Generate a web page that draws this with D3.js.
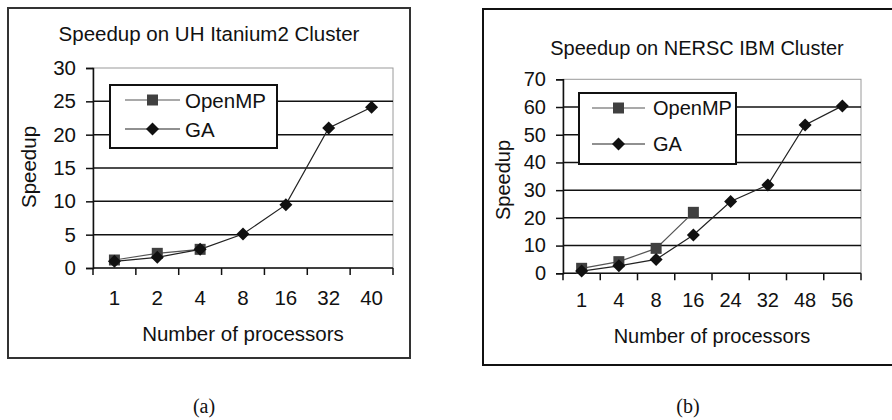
<!DOCTYPE html>
<html>
<head>
<meta charset="utf-8">
<script src="https://cdn.jsdelivr.net/npm/d3@7"></script>
<style>
  body { margin: 0; background: #fff; }
  svg { display: block; }
  text { font-family: "Liberation Sans", Arial, sans-serif; fill: #111; }
</style>
</head>
<body>
<svg id="fig" width="892" height="420"></svg>
<script>
// ---- data ----
const procsA = ["1", "2", "4", "8", "16", "32", "40"];
const openmpA = [1.2, 2.2, 2.8];
const gaA = [1.0, 1.6, 2.8, 5.1, 9.5, 21.0, 24.1];
const yTicksA = [0, 5, 10, 15, 20, 25, 30];

const procsB = ["1", "4", "8", "16", "24", "32", "48", "56"];
const openmpB = [1.8, 4.2, 9.0, 22.0];
const gaB = [0.8, 2.7, 5.0, 13.8, 25.9, 31.9, 53.5, 60.4];
const yTicksB = [0, 10, 20, 30, 40, 50, 60, 70];

const seriesNames = ["OpenMP", "GA"];

const svg = d3.select("#fig");

// marker shapes
function squarePath(s) {
  const h = s / 2;
  return `M${-h},${-h}H${h}V${h}H${-h}Z`;
}
function diamondPath(s) {
  const h = s / 2;
  return `M0,${-h}L${h},0L0,${h}L${-h},0Z`;
}

function drawPanel(cfg) {
  const g = svg.append("g");

  // outer chart frame
  g.append("rect")
    .attr("x", cfg.frame.x).attr("y", cfg.frame.y)
    .attr("width", cfg.frame.w).attr("height", cfg.frame.h)
    .attr("fill", "#fff")
    .attr("stroke", cfg.frameColor)
    .attr("stroke-width", 2);

  g.append("text")
    .attr("x", cfg.title.x).attr("y", cfg.title.y)
    .attr("text-anchor", "middle")
    .attr("dominant-baseline", "central")
    .style("font-size", cfg.fs + "px")
    .text(cfg.titleText);

  const x = d3.scaleBand()
    .domain(cfg.procs)
    .range([cfg.plot.x, cfg.plot.x + cfg.plot.w])
    .padding(0);

  const y = d3.scaleLinear()
    .domain([0, cfg.yTicks[cfg.yTicks.length - 1]])
    .range([cfg.plot.y + cfg.plot.h, cfg.plot.y]);

  // plot area border (grey, Excel style)
  g.append("rect")
    .attr("x", cfg.plot.x).attr("y", cfg.plot.y)
    .attr("width", cfg.plot.w).attr("height", cfg.plot.h)
    .attr("fill", "none")
    .attr("stroke", "#9a9a9a")
    .attr("stroke-width", 1);

  // gridlines
  g.append("g").selectAll("line")
    .data(cfg.yTicks.slice(1, -1))
    .join("line")
    .attr("x1", cfg.plot.x).attr("x2", cfg.plot.x + cfg.plot.w)
    .attr("y1", d => y(d)).attr("y2", d => y(d))
    .attr("stroke", "#111")
    .attr("stroke-width", 1.5);

  // y axis
  const yAxis = g.append("g")
    .attr("transform", `translate(${cfg.plot.x},0)`)
    .call(d3.axisLeft(y).tickValues(cfg.yTicks).tickSize(7).tickPadding(10));
  yAxis.select(".domain").attr("stroke", "#111").attr("stroke-width", 1.5);
  yAxis.selectAll(".tick line").attr("stroke", "#111").attr("stroke-width", 1.5);
  yAxis.selectAll(".tick text")
    .style("font-size", cfg.fs + "px")
    .style("font-family", "'Liberation Sans', Arial, sans-serif")
    .attr("fill", "#111");

  // x axis: labels centred in bands, ticks on band edges
  const bottom = cfg.plot.y + cfg.plot.h;
  const xAxis = g.append("g")
    .attr("transform", `translate(0,${bottom})`)
    .call(d3.axisBottom(x).tickSize(0).tickPadding(cfg.xPad));
  xAxis.select(".domain").remove();
  xAxis.selectAll(".tick text")
    .style("font-size", cfg.fs + "px")
    .style("font-family", "'Liberation Sans', Arial, sans-serif")
    .attr("fill", "#111");

  const edges = cfg.procs.map(p => x(p)).concat([cfg.plot.x + cfg.plot.w]);
  g.append("line")
    .attr("x1", cfg.plot.x).attr("x2", cfg.plot.x + cfg.plot.w)
    .attr("y1", bottom).attr("y2", bottom)
    .attr("stroke", "#111").attr("stroke-width", 1.5);
  g.append("g").selectAll("line")
    .data(edges)
    .join("line")
    .attr("x1", d => d).attr("x2", d => d)
    .attr("y1", bottom).attr("y2", bottom + 7)
    .attr("stroke", "#111").attr("stroke-width", 1.5);

  // axis titles
  g.append("text")
    .attr("transform", `translate(${cfg.ylabel.x},${cfg.ylabel.y}) rotate(-90)`)
    .attr("text-anchor", "middle")
    .attr("dominant-baseline", "central")
    .style("font-size", cfg.fs + "px")
    .text("Speedup");

  g.append("text")
    .attr("x", cfg.xlabel.x).attr("y", cfg.xlabel.y)
    .attr("text-anchor", "middle")
    .attr("dominant-baseline", "central")
    .style("font-size", cfg.fs + "px")
    .text("Number of processors");

  // series
  const line = d3.line()
    .x((d, i) => x(cfg.procs[i]) + x.bandwidth() / 2)
    .y(d => y(d));

  g.append("path")
    .datum(cfg.openmp)
    .attr("d", line)
    .attr("fill", "none")
    .attr("stroke", "#555")
    .attr("stroke-width", 1.2);

  g.append("path")
    .datum(cfg.ga)
    .attr("d", line)
    .attr("fill", "none")
    .attr("stroke", "#222")
    .attr("stroke-width", 1.2);

  g.append("g").selectAll("path")
    .data(cfg.openmp)
    .join("path")
    .attr("transform", (d, i) => `translate(${x(cfg.procs[i]) + x.bandwidth() / 2},${y(d)})`)
    .attr("d", squarePath(11))
    .attr("fill", "#404040");

  g.append("g").selectAll("path")
    .data(cfg.ga)
    .join("path")
    .attr("transform", (d, i) => `translate(${x(cfg.procs[i]) + x.bandwidth() / 2},${y(d)})`)
    .attr("d", diamondPath(13))
    .attr("fill", "#111");

  // legend
  const L = cfg.legend;
  const lg = g.append("g");
  lg.append("rect")
    .attr("x", L.x).attr("y", L.y)
    .attr("width", L.w).attr("height", L.h)
    .attr("fill", "#fff")
    .attr("stroke", "#111")
    .attr("stroke-width", 2);

  seriesNames.forEach((name, i) => {
    const ly = L.y + L.rowY[i];
    lg.append("line")
      .attr("x1", L.x + L.lineX0).attr("x2", L.x + L.lineX1)
      .attr("y1", ly).attr("y2", ly)
      .attr("stroke", i === 0 ? "#555" : "#222")
      .attr("stroke-width", 1.2);
    lg.append("path")
      .attr("transform", `translate(${L.x + (L.lineX0 + L.lineX1) / 2},${ly})`)
      .attr("d", i === 0 ? squarePath(11) : diamondPath(13))
      .attr("fill", i === 0 ? "#404040" : "#111");
    lg.append("text")
      .attr("x", L.x + L.textX).attr("y", ly)
      .attr("dominant-baseline", "central")
      .style("font-size", cfg.fs + "px")
      .text(name);
  });

  // caption below the frame
  g.append("text")
    .attr("x", cfg.caption.x).attr("y", cfg.caption.y)
    .attr("text-anchor", "middle")
    .attr("dominant-baseline", "central")
    .style("font-family", "'Liberation Serif', 'Times New Roman', serif")
    .style("font-size", "20px")
    .text(cfg.captionText);
}

drawPanel({
  procs: procsA, openmp: openmpA, ga: gaA, yTicks: yTicksA,
  titleText: "Speedup on UH Itanium2 Cluster",
  captionText: "(a)",
  fs: 20.5,
  frameColor: "#333",
  frame: { x: 8, y: 8, w: 402, h: 350 },
  plot: { x: 93, y: 68, w: 300, h: 200 },
  title: { x: 209, y: 33 },
  ylabel: { x: 28, y: 167 },
  xlabel: { x: 243, y: 333 },
  xPad: 22,
  legend: { x: 110, y: 85, w: 167, h: 63, rowY: [15, 44], lineX0: 15, lineX1: 70, textX: 75 },
  caption: { x: 204, y: 406 }
});

drawPanel({
  procs: procsB, openmp: openmpB, ga: gaB, yTicks: yTicksB,
  titleText: "Speedup on NERSC IBM Cluster",
  captionText: "(b)",
  fs: 20,
  frameColor: "#111",
  frame: { x: 483, y: 9, w: 420, h: 356 },
  plot: { x: 563, y: 79.3, w: 298, h: 194 },
  title: { x: 697, y: 48 },
  ylabel: { x: 503, y: 180 },
  xlabel: { x: 712, y: 336 },
  xPad: 20,
  legend: { x: 579, y: 93, w: 157, h: 71, rowY: [15, 51], lineX0: 13, lineX1: 66, textX: 74 },
  caption: { x: 688, y: 406 }
});
</script>
</body>
</html>
